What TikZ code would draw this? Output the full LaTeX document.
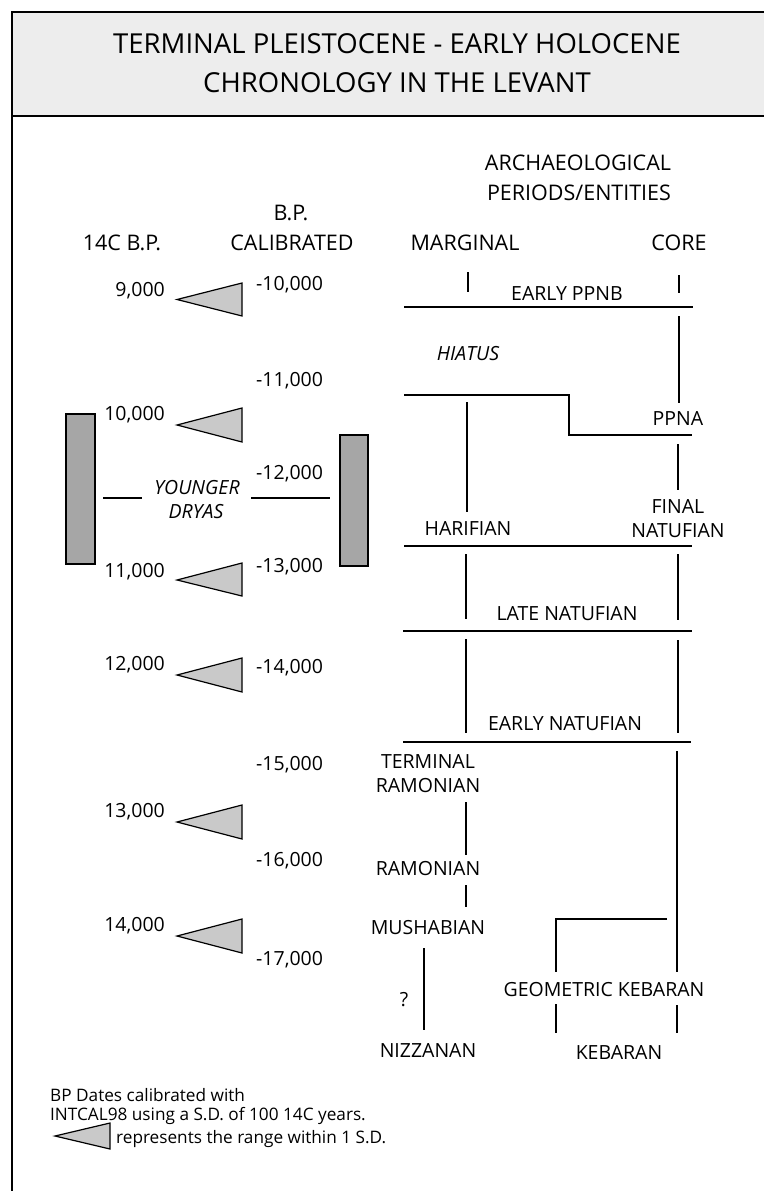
\documentclass[tikz,border=0pt]{standalone}
\usepackage{fontspec}
\setmainfont{Open Sans}
\begin{document}
\begin{tikzpicture}[x=1pt,y=-1pt,
  lbl/.style={inner sep=0pt, text height=14pt, text depth=0pt, font=\fontsize{19.5}{23}\selectfont},
  hd/.style={inner sep=0pt, text height=15.3pt, text depth=0pt, font=\fontsize{21.5}{25}\selectfont},
  itl/.style={lbl, font=\fontsize{19.5}{23}\selectfont\itshape},
  leg/.style={inner sep=0pt, text height=12.3pt, text depth=0pt, font=\fontsize{17.2}{21}\selectfont},
  ttl/.style={inner sep=0pt, text height=20pt, text depth=0pt, font=\fontsize{27.5}{32}\selectfont},
  ln/.style={line width=1.4pt},
  frame/.style={line width=2pt},
  tri/.style={draw=black, line width=1.2pt, fill=gray!42, line join=miter},
  bar/.style={draw=black, line width=1.2pt, fill=gray!70}]
\useasboundingbox (0,0) rectangle (763,1191);
% frame and header
\fill[gray!14] (12,12) rectangle (800,116);
\draw[frame] (12,1200) -- (12,12) -- (800,12);
\draw[frame] (12,116) -- (800,116);
\node[ttl] (t1) at (397,43) {TERMINAL PLEISTOCENE - EARLY HOLOCENE};
\node[ttl] (t2) at (397,82) {CHRONOLOGY IN THE LEVANT};
% column heads
\node[hd] (h1) at (578,163) {ARCHAEOLOGICAL};
\node[hd] (h2) at (579,193) {PERIODS/ENTITIES};
\node[hd] (h3) at (291,213) {B.P.};
\node[hd] (h4) at (292,243) {CALIBRATED};
\node[hd] (h5) at (122,243) {14C B.P.};
\node[hd] (h6) at (465,243) {MARGINAL};
\node[hd] (h7) at (679,243) {CORE};
% 14C values
\node[lbl,anchor=east] (c9) at (165,289) {9,000};
\node[lbl,anchor=east] (c10) at (165,413) {10,000};
\node[lbl,anchor=east] (c11) at (165,570) {11,000};
\node[lbl,anchor=east] (c12) at (165,663) {12,000};
\node[lbl,anchor=east] (c13) at (165,810) {13,000};
\node[lbl,anchor=east] (c14) at (165,924) {14,000};
% calibrated values
\node[lbl,anchor=west] (k10) at (256,283) {-10,000};
\node[lbl,anchor=west] (k11) at (256,379) {-11,000};
\node[lbl,anchor=west] (k12) at (256,472) {-12,000};
\node[lbl,anchor=west] (k13) at (256,565) {-13,000};
\node[lbl,anchor=west] (k14) at (256,666) {-14,000};
\node[lbl,anchor=west] (k15) at (256,763) {-15,000};
\node[lbl,anchor=west] (k16) at (256,859) {-16,000};
\node[lbl,anchor=west] (k17) at (256,958) {-17,000};
% triangles
\draw[tri] (177,299.5) -- (242,283) -- (242,316) -- cycle;
\draw[tri] (177,425) -- (242,408) -- (242,442) -- cycle;
\draw[tri] (177,580) -- (242,563) -- (242,596) -- cycle;
\draw[tri] (177,675) -- (242,658) -- (242,692) -- cycle;
\draw[tri] (177,822) -- (242,805) -- (242,839) -- cycle;
\draw[tri] (177,936) -- (242,919) -- (242,953) -- cycle;
% Younger Dryas
\draw[bar] (66,414) rectangle (95,564);
\draw[bar] (340,435) rectangle (368,566);
\node[itl] (yd1) at (197,487) {YOUNGER};
\node[itl] (yd2) at (196,511) {DRYAS};
\coordinate (ydl1) at (103,498); \coordinate (ydl2) at (142,498);
\coordinate (ydr1) at (251,498); \coordinate (ydr2) at (330,498);
\draw[ln] (ydl1) -- (ydl2);
\draw[ln] (ydr1) -- (ydr2);
% archaeological entities
\node[lbl] (eppnb) at (567,293) {EARLY PPNB};
\node[itl] (hiatus) at (468,353) {HIATUS};
\node[lbl] (ppna) at (678,418) {PPNA};
\node[lbl] (fin1) at (678,506) {FINAL};
\node[lbl] (fin2) at (678,530) {NATUFIAN};
\node[lbl] (harif) at (468,528) {HARIFIAN};
\node[lbl] (latenat) at (567,613) {LATE NATUFIAN};
\node[lbl] (earlynat) at (565,723) {EARLY NATUFIAN};
\node[lbl] (term1) at (428,761) {TERMINAL};
\node[lbl] (term2) at (428,785) {RAMONIAN};
\node[lbl] (ramon) at (428,868) {RAMONIAN};
\node[lbl] (mush) at (428,927) {MUSHABIAN};
\node[lbl] (q) at (404,999) {?};
\node[lbl] (nizz) at (428,1050) {NIZZANAN};
\node[lbl] (geokeb) at (604,989) {GEOMETRIC KEBARAN};
\node[lbl] (keb) at (619,1052) {KEBARAN};
% horizontal dividers
\draw[ln] (404,307) -- (693,307);
\draw[ln] (404,395) -- (569,395) -- (569,435) -- (692,435);
\draw[ln] (404,546) -- (692,546);
\draw[ln] (403,631) -- (692,631);
\draw[ln] (403,742) -- (691,742);
% vertical duration lines
\draw[ln] (468,272) -- (468,292);
\draw[ln] (679,275) -- (679,293);
\draw[ln] (679,316) -- (679,403);
\draw[ln] (467,402) -- (467,512);
\draw[ln] (678,444) -- (678,490);
\draw[ln] (466,554) -- (466,619);
\draw[ln] (678,554) -- (678,620);
\draw[ln] (466,639) -- (466,733);
\draw[ln] (678,640) -- (678,733);
\draw[ln] (466,802) -- (466,855);
\draw[ln] (466,885) -- (466,907);
\draw[ln] (424,948) -- (424,1030);
\draw[ln] (677,751) -- (677,972);
\draw[ln] (667,919) -- (556,919) -- (556,972);
\draw[ln] (556,1004) -- (556,1033);
\draw[ln] (677,1005) -- (677,1033);
% legend
\node[leg,anchor=west] (lg1) at (50,1095) {BP Dates calibrated with};
\node[leg,anchor=west] (lg2) at (50,1114) {INTCAL98 using a S.D. of 100 14C years.};
\draw[tri] (55,1136) -- (110,1123) -- (110,1149) -- cycle;
\node[leg,anchor=west] (lg3) at (116,1137) {represents the range within 1 S.D.};
\end{tikzpicture}
\end{document}
